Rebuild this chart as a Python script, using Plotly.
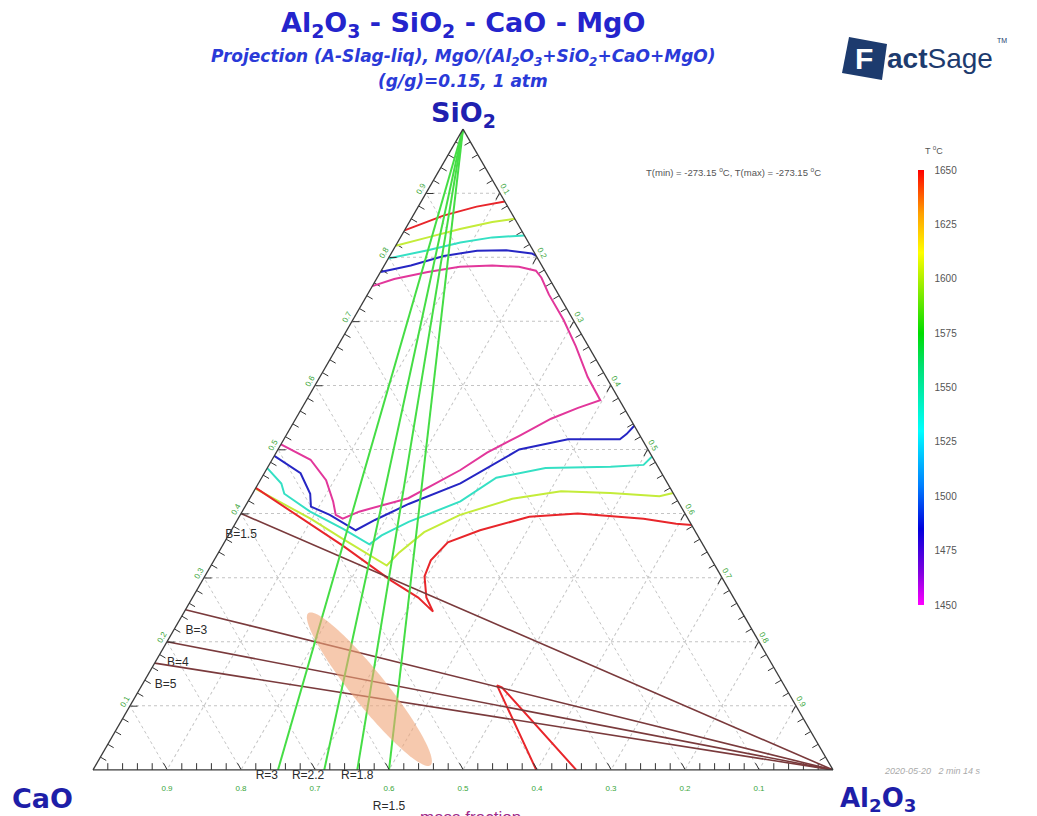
import numpy as np
import plotly.graph_objects as go

FONT = "Liberation Sans, Arial, sans-serif"
WFONT = "DejaVu Sans, Verdana, sans-serif"

# ---------------- data (mass fractions; CaO = 1 - SiO2 - Al2O3) ----------------
# Liquidus isotherms, upper (SiO2-rich) branches
RED_TOP_SIO2 = [0.842, 0.865, 0.879, 0.887]
RED_TOP_AL2O3 = [0.0, 0.041, 0.079, 0.113]
YEL_TOP_SIO2 = [0.818, 0.831, 0.844, 0.855, 0.860]
YEL_TOP_AL2O3 = [0.0, 0.037, 0.074, 0.112, 0.140]
CYA_TOP_SIO2 = [0.798, 0.811, 0.823, 0.831, 0.834]
CYA_TOP_AL2O3 = [0.0, 0.047, 0.085, 0.124, 0.166]
BLU_TOP_SIO2 = [0.777, 0.787, 0.802, 0.810, 0.811, 0.806, 0.802]
BLU_TOP_AL2O3 = [0.0, 0.036, 0.073, 0.114, 0.153, 0.190, 0.198]

# Magenta (1450 C) contour
MAG_SIO2 = [0.755, 0.766, 0.777, 0.785, 0.787, 0.785, 0.779, 0.768, 0.742, 0.702,
            0.661, 0.613, 0.577, 0.565, 0.548, 0.521, 0.495, 0.468, 0.424, 0.403,
            0.392, 0.398, 0.419, 0.452, 0.484, 0.508]
MAG_AL2O3 = [0.0, 0.024, 0.064, 0.103, 0.146, 0.183, 0.209, 0.222, 0.245, 0.285,
             0.322, 0.362, 0.397, 0.373, 0.345, 0.315, 0.285, 0.2625, 0.214, 0.158,
             0.1415, 0.129, 0.115, 0.089, 0.052, 0.0]

# Lower branches
BLU_LOW_SIO2 = [0.537, 0.524, 0.516, 0.516, 0.500, 0.447, 0.415, 0.390, 0.374,
                0.398, 0.411, 0.431, 0.463, 0.490]
BLU_LOW_AL2O3 = [0.463, 0.459, 0.454, 0.384, 0.326, 0.273, 0.219, 0.186, 0.168,
                 0.121, 0.089, 0.078, 0.049, 0.0]
CYA_LOW_SIO2 = [0.489, 0.476, 0.473, 0.471, 0.456, 0.419, 0.387, 0.366, 0.352,
                0.376, 0.403, 0.431, 0.447, 0.471]
CYA_LOW_AL2O3 = [0.511, 0.506, 0.463, 0.376, 0.317, 0.287, 0.233, 0.207, 0.1975,
                 0.150, 0.092, 0.043, 0.031, 0.0]
YEL_LOW_SIO2 = [0.432, 0.427, 0.432, 0.435, 0.423, 0.398, 0.371, 0.339, 0.319,
                0.360, 0.392, 0.439]
YEL_LOW_AL2O3 = [0.568, 0.552, 0.483, 0.415, 0.355, 0.297, 0.262, 0.244, 0.2375,
                 0.158, 0.098, 0.0]
RED_LOW_SIO2 = [0.440, 0.350, 0.295, 0.269, 0.247, 0.269, 0.302, 0.327, 0.355,
                0.374, 0.395, 0.400, 0.392, 0.384, 0.382]
RED_LOW_AL2O3 = [0.0, 0.1625, 0.256, 0.305, 0.336, 0.316, 0.297, 0.293, 0.302,
                 0.336, 0.392, 0.455, 0.548, 0.596, 0.618]
RED_V_SIO2 = [0.0, 0.132, 0.129, 0.0]
RED_V_AL2O3 = [0.599, 0.480, 0.488, 0.653]

# Ratio lines
R_VALUES = [3, 2.2, 1.8, 1.5]      # CaO/Al2O3, lines from SiO2 apex
R_LABELS = ["R=3", "R=2.2", "R=1.8", "<br><br>R=1.5"]
R_POS = ["bottom left", "bottom left", "bottom center", "bottom center"]
B_VALUES = [1.5, 3, 4, 5]          # CaO/SiO2, lines from Al2O3 corner
B_LABELS = ["<br>B=1.5", "<br>B=3", "<br>B=4", "<br>B=5"]
B_POS = ["bottom center", "bottom right", "bottom right", "bottom right"]

# Highlighted window (ellipse): centre and semi-axes (SiO2, CaO, Al2O3)
ELL_CENTER = [0.126, 0.5635, 0.3105]
ELL_MAJOR = [0.1185, 0.0235, -0.142]
ELL_MINOR = [0.0177, -0.026, 0.0083]

T_TICKS = [1450, 1475, 1500, 1525, 1550, 1575, 1600, 1625, 1650]

# ---------------- figure geometry ----------------
OFF = 8                      # page body margin of the html
FW, FH = 1037 - OFF, 816 - OFF
L, T, W, H = 85, 121, 740, 641
Rm = FW - L - W
Bm = FH - T - H


def px(x):                   # screenshot pixel -> paper x
    return (x - OFF - L) / W


def py(y):                   # screenshot pixel -> paper y
    return (FH - Bm - (y - OFF)) / H


def tern(sio2, al2o3):
    a = np.array(sio2, dtype=float)
    c = np.array(al2o3, dtype=float)
    b = np.clip(1 - a - c, 0, None)
    return a, b, c


fig = go.Figure()

# minor ticks along the three edges (every 0.02, inside)
minor = np.array([k / 50 for k in range(1, 50) if k % 5 != 0])
eps = 0.004
zero = np.full_like(minor, 0.0)
for a_, b_, c_, ang in [
    (minor - eps / 2, 1 - minor - eps / 2, zero + eps, -60),   # left edge
    (zero + eps, minor - eps / 2, 1 - minor - eps / 2, 0),     # bottom edge
    (minor - eps / 2, zero + eps, 1 - minor - eps / 2, 60),    # right edge
]:
    fig.add_trace(go.Scatterternary(a=a_, b=b_, c=c_, mode="markers",
                                    marker=dict(symbol="line-ns", size=6, angle=ang,
                                                line=dict(width=1, color="#333")),
                                    hoverinfo="skip", showlegend=False))

iso = [
    (RED_TOP_SIO2, RED_TOP_AL2O3, "#e8262b"),
    (YEL_TOP_SIO2, YEL_TOP_AL2O3, "#c4ec3a"),
    (CYA_TOP_SIO2, CYA_TOP_AL2O3, "#35e0c4"),
    (BLU_TOP_SIO2, BLU_TOP_AL2O3, "#2626c4"),
    (MAG_SIO2, MAG_AL2O3, "#e2379b"),
    (BLU_LOW_SIO2, BLU_LOW_AL2O3, "#2626c4"),
    (CYA_LOW_SIO2, CYA_LOW_AL2O3, "#35e0c4"),
    (YEL_LOW_SIO2, YEL_LOW_AL2O3, "#c4ec3a"),
    (RED_LOW_SIO2, RED_LOW_AL2O3, "#e8262b"),
    (RED_V_SIO2, RED_V_AL2O3, "#e8262b"),
]
for s, al, col in iso:
    a, b, c = tern(s, al)
    fig.add_trace(go.Scatterternary(a=a, b=b, c=c, mode="lines",
                                    line=dict(color=col, width=2),
                                    hoverinfo="skip", showlegend=False))

# B lines (brown)
for bv, lab, pos in zip(B_VALUES, B_LABELS, B_POS):
    s0 = 1 / (1 + bv)
    fig.add_trace(go.Scatterternary(a=[s0, 0], b=[1 - s0, 0], c=[0, 1], mode="lines",
                                    line=dict(color="#7a3a3c", width=1.6),
                                    hoverinfo="skip", showlegend=False))
    fig.add_trace(go.Scatterternary(a=[s0], b=[1 - s0], c=[0], mode="text",
                                    text=[lab], textposition=pos, cliponaxis=False,
                                    textfont=dict(size=12, color="#2a2a2a", family=FONT),
                                    hoverinfo="skip", showlegend=False))

# R lines (green)
for rv, lab, pos in zip(R_VALUES, R_LABELS, R_POS):
    cao = rv / (1 + rv)
    fig.add_trace(go.Scatterternary(a=[1, 0], b=[0, cao], c=[0, 1 - cao], mode="lines",
                                    line=dict(color="#45dd45", width=2),
                                    hoverinfo="skip", showlegend=False))
    fig.add_trace(go.Scatterternary(a=[0], b=[cao], c=[1 - cao], mode="text",
                                    text=[lab], textposition=pos,
                                    cliponaxis=False,
                                    textfont=dict(size=12, color="#2a2a2a", family=FONT),
                                    hoverinfo="skip", showlegend=False))

# Ellipse
t = np.linspace(0, 2 * np.pi, 120)
ea = ELL_CENTER[0] + ELL_MAJOR[0] * np.cos(t) + ELL_MINOR[0] * np.sin(t)
eb = ELL_CENTER[1] + ELL_MAJOR[1] * np.cos(t) + ELL_MINOR[1] * np.sin(t)
ec = ELL_CENTER[2] + ELL_MAJOR[2] * np.cos(t) + ELL_MINOR[2] * np.sin(t)
fig.add_trace(go.Scatterternary(a=ea, b=eb, c=ec, mode="lines", fill="toself",
                                fillcolor="rgba(240,165,120,0.6)",
                                line=dict(width=0, color="rgba(0,0,0,0)"),
                                hoverinfo="skip", showlegend=False))

# Colour bar holder
fig.add_trace(go.Scatterternary(
    a=[1], b=[0], c=[0], mode="markers",
    marker=dict(size=1, color=[1450], opacity=0, cmin=1450, cmax=1650,
                colorscale=[[0, "#ff00ff"], [0.075, "#8000e0"], [0.175, "#0000dd"],
                            [0.275, "#0080ff"], [0.4, "#00ffff"], [0.55, "#00e070"],
                            [0.625, "#00dd00"], [0.75, "#b0f000"], [0.81, "#ffff00"],
                            [0.9, "#ffa000"], [1, "#ff0000"]],
                showscale=True,
                colorbar=dict(x=px(918), xanchor="left", y=py(170), yanchor="top",
                              len=435 / H, lenmode="fraction", thickness=6,
                              xpad=0, ypad=0, outlinewidth=0,
                              tickvals=T_TICKS, ticks="outside", ticklen=9,
                              tickcolor="rgba(0,0,0,0)",
                              tickfont=dict(size=10, color="#555", family=FONT))),
    hoverinfo="skip", showlegend=False))

ticks = [0.1, 0.2, 0.3, 0.4, 0.5, 0.6, 0.7, 0.8, 0.9]
tlabels = ["0.1", "0.2", "0.3", "0.4", "0.5", "0.6", "0.7", "0.8", "0.9"]


def axis(angle, labels):
    return dict(min=0, linecolor="#3a3a3a", linewidth=1.3,
                showgrid=True, gridcolor="#c4c4c4", gridwidth=1, griddash="dot",
                ticks="inside", ticklen=7, tickcolor="#333", tickwidth=1,
                tickmode="array", tickvals=ticks, ticktext=labels, tickangle=angle,
                tickfont=dict(size=8, color="#3aa63a", family=FONT),
                title=dict(text=""))


fig.update_layout(
    width=FW, height=FH,
    margin=dict(l=L, r=Rm, t=T, b=Bm),
    paper_bgcolor="white", plot_bgcolor="white",
    font=dict(family=FONT),
    ternary=dict(sum=1, bgcolor="white",
                 domain=dict(x=[0, 1], y=[0, 1]),
                 aaxis=axis(-60, tlabels),
                 baxis=axis(0, ["<br>" + s for s in tlabels]),
                 caxis=axis(60, tlabels)),
)

ann = []


def add(text, x, y, size, color, xanchor="center", yanchor="middle", family=FONT):
    ann.append(dict(text=text, x=px(x), y=py(y), xref="paper", yref="paper",
                    showarrow=False, xanchor=xanchor, yanchor=yanchor,
                    font=dict(size=size, color=color, family=family)))


add("<b>Al<sub>2</sub>O<sub>3</sub> - SiO<sub>2</sub> - CaO - MgO</b>", 463, 24, 27,
    "#2424cc", family=WFONT)
add("<b><i>Projection (A-Slag-liq), MgO/(Al<sub>2</sub>O<sub>3</sub>+SiO<sub>2</sub>+CaO+MgO)</i></b>",
    463, 57, 17, "#2a3ad8", family=WFONT)
add("<b><i>(g/g)=0.15, 1 atm</i></b>", 463, 81, 17, "#2a3ad8", family=WFONT)
add("<b>SiO<sub>2</sub></b>", 463, 114, 27, "#2020b0", family=WFONT)
add("<b>CaO</b>", 42, 798, 27, "#1e1ea8", family=WFONT)
add("<b>Al<sub>2</sub>O<sub>3</sub></b>", 878, 799, 26, "#1e1ea8", family=WFONT)
add("T(min) = -273.15 <sup>o</sup>C, T(max) = -273.15 <sup>o</sup>C", 733, 172, 9.5, "#555")
add("T <sup>o</sup>C", 934, 150, 9, "#555")
add("<i>2020-05-20   2 min 14 s</i>", 932, 771, 9, "#aaa")
add("mass fraction", 470, 806, 17, "#a02a8a", yanchor="top")
# FactSage logo
add("<b>F</b>", 864, 59, 30, "white")
add("<b>act</b>Sage", 885, 58, 28, "#1d3b6e", xanchor="left")
add("TM", 1002, 41, 7, "#1d3b6e")

fig.update_layout(annotations=ann)

fig.add_shape(type="path", xref="paper", yref="paper", layer="below",
              path=f"M {px(849)},{py(37)} L {px(887)},{py(44)} L {px(882)},{py(80)} "
                   f"L {px(842)},{py(73)} Z",
              fillcolor="#1d3b6e", line=dict(width=0))

fig.write_html("out.html")
